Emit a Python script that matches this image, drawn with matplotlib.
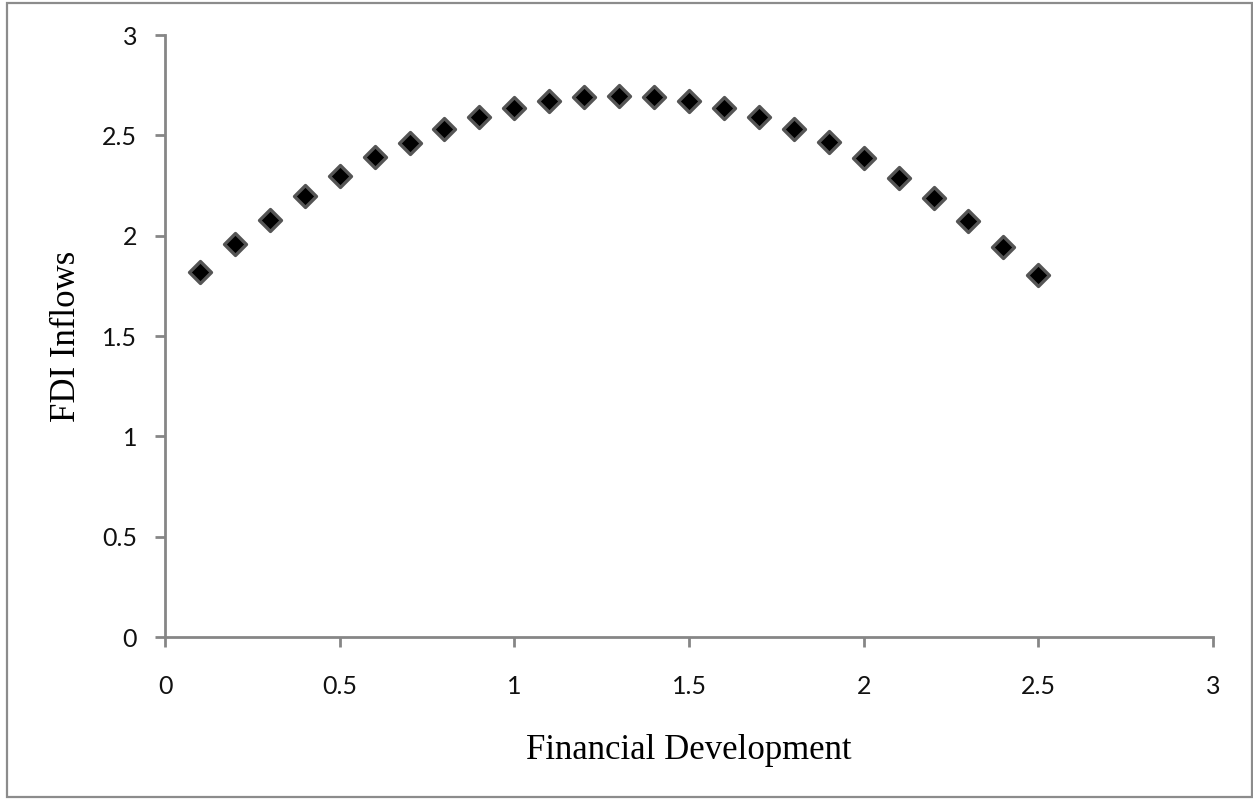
import matplotlib
matplotlib.use('Agg')
import matplotlib.pyplot as plt
from matplotlib.patches import Rectangle

fin_dev = [0.1, 0.2, 0.3, 0.4, 0.5, 0.6, 0.7, 0.8, 0.9, 1.0, 1.1, 1.2, 1.3,
           1.4, 1.5, 1.6, 1.7, 1.8, 1.9, 2.0, 2.1, 2.2, 2.3, 2.4, 2.5]
fdi = [1.82, 1.96, 2.08, 2.20, 2.30, 2.39, 2.46, 2.53, 2.59, 2.635, 2.67, 2.69, 2.695,
       2.69, 2.67, 2.635, 2.59, 2.53, 2.465, 2.385, 2.29, 2.19, 2.075, 1.945, 1.805]
xticks = [0, 0.5, 1, 1.5, 2, 2.5, 3]
yticks = [0, 0.5, 1, 1.5, 2, 2.5, 3]

axis_grey = '#868686'

fig = plt.figure(figsize=(12.53, 8), dpi=100)
ax = fig.add_axes([0.1317, 0.2037, 0.9681 - 0.1317, 0.9562 - 0.2037])

ax.scatter(fin_dev, fdi, marker='D', s=125, c='black', edgecolors='#555555', linewidths=2.4, zorder=3)

ax.set_xlim(0, 3)
ax.set_ylim(0, 3)
ax.set_xticks(xticks)
ax.set_yticks(yticks)
ax.set_xticklabels([f'{t:g}' for t in xticks])
ax.set_yticklabels([f'{t:g}' for t in yticks])

for side in ['top', 'right']:
    ax.spines[side].set_visible(False)
for side in ['left', 'bottom']:
    ax.spines[side].set_color(axis_grey)
    ax.spines[side].set_linewidth(2)

ax.tick_params(direction='out', length=7, width=2, color=axis_grey,
               labelsize=18, labelcolor='#111111')
for lab in ax.get_xticklabels() + ax.get_yticklabels():
    lab.set_family('Lato')
ax.tick_params(axis='x', pad=20)
ax.tick_params(axis='y', pad=13)

ax.set_xlabel('Financial Development', family='Liberation Serif', fontsize=25, labelpad=26)
ax.set_ylabel('FDI Inflows', family='Liberation Serif', fontsize=25, labelpad=14)

fig.patches.append(Rectangle((0.0056, 0.004), 0.9936, 0.9925, transform=fig.transFigure,
                             fill=False, edgecolor='#8c8c8c', linewidth=1.6))

fig.savefig('out.png', dpi=100)
